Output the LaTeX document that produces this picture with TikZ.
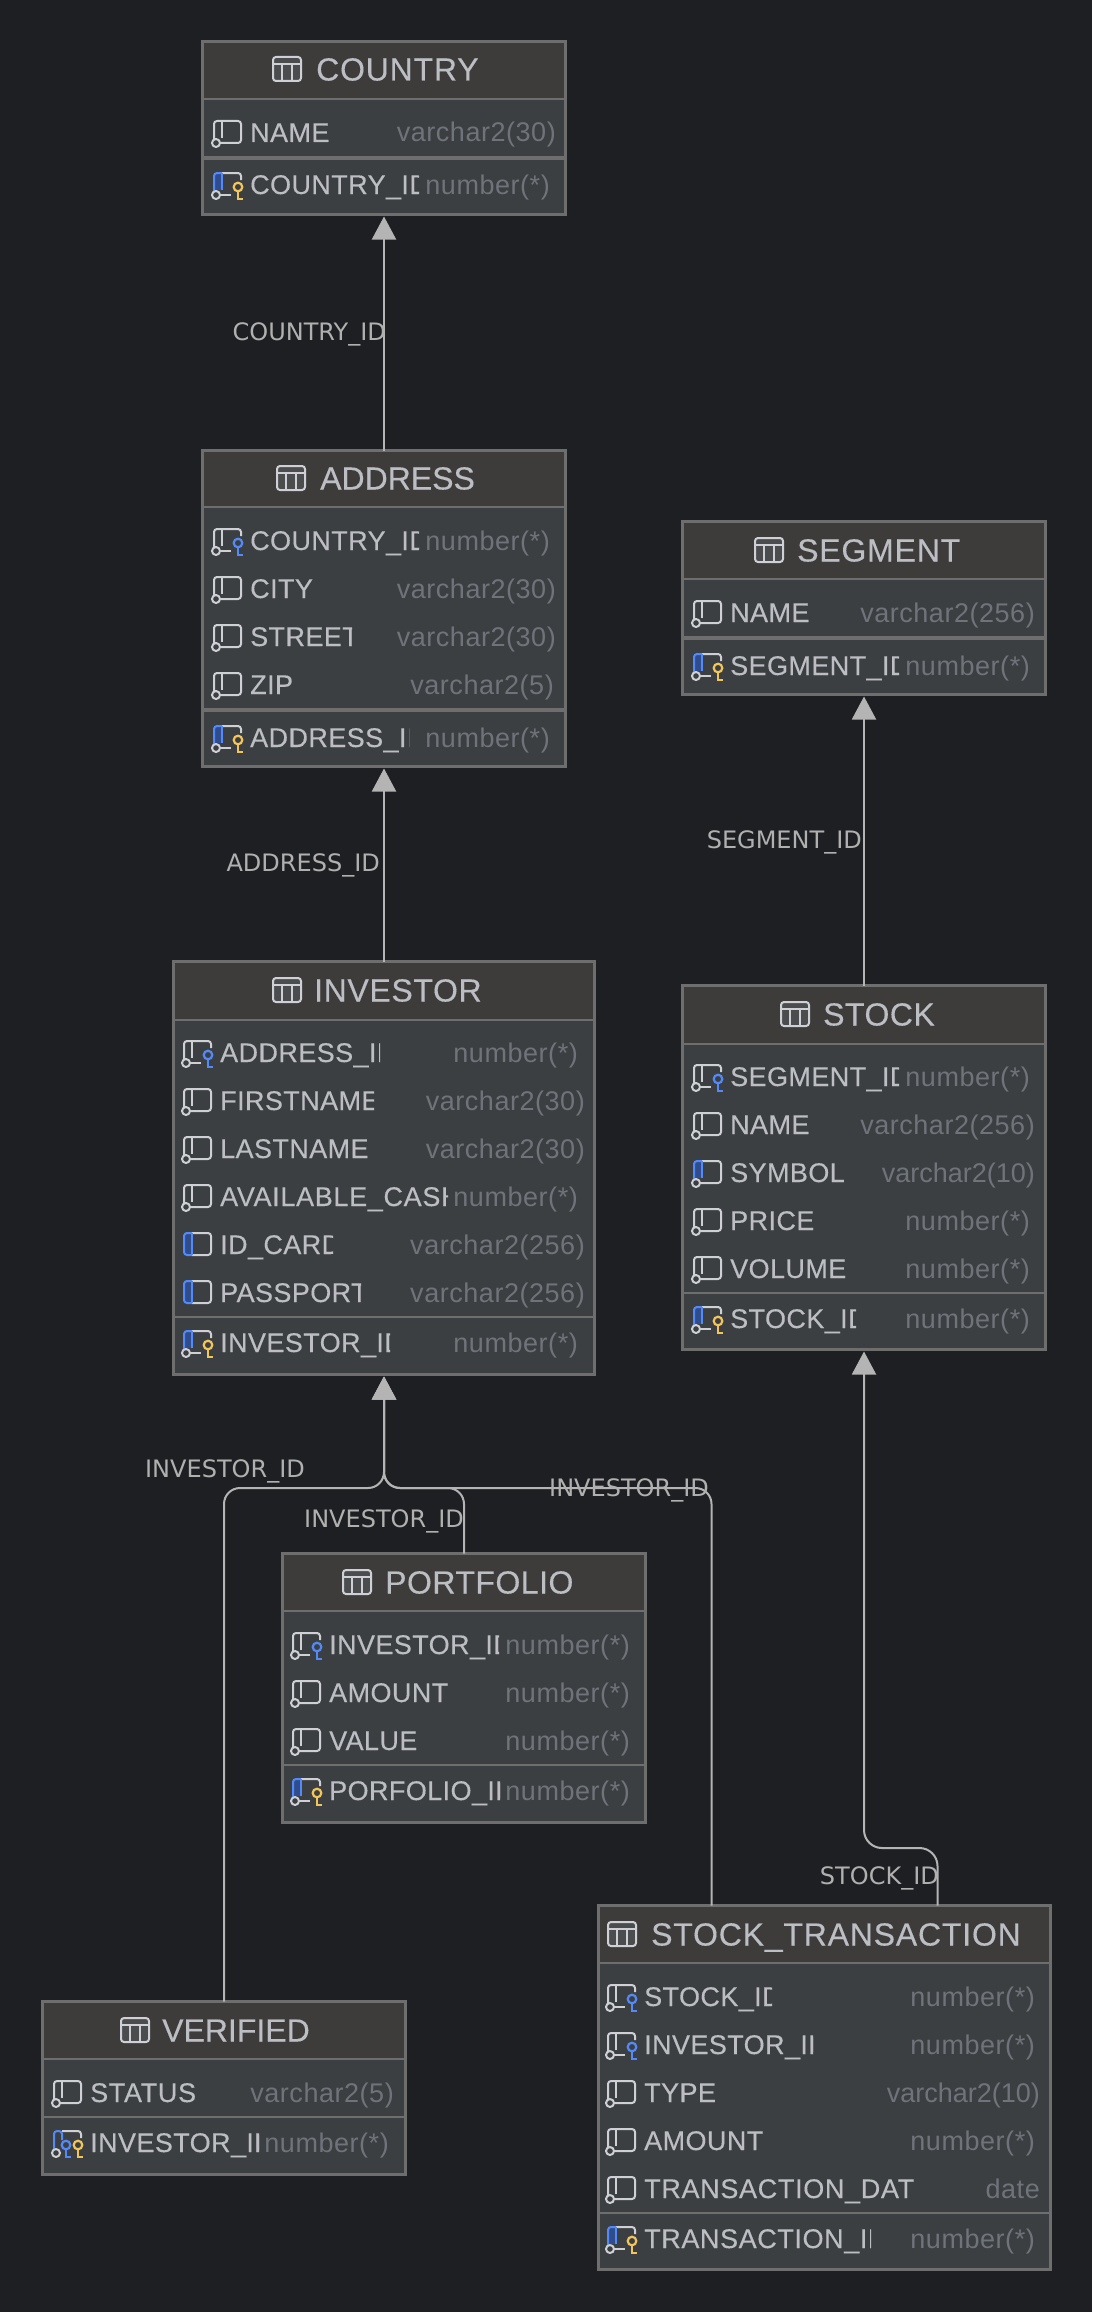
\documentclass[tikz,border=0pt]{standalone}
\usepackage{fontspec}
\setmainfont{Liberation Sans}
\newfontfamily\lblfont{DejaVu Sans}
\newfontfamily\titlefont[LetterSpace=2.5,FakeBold=0.25]{Liberation Sans}
\newfontfamily\namefont[LetterSpace=1.5,FakeBold=0.25]{Liberation Sans}
\newfontfamily\typefont[LetterSpace=2]{Liberation Sans}
\usetikzlibrary{arrows.meta,calc}
\definecolor{bgc}{HTML}{1E1F22}
\definecolor{hdrc}{HTML}{3D3C3B}
\definecolor{bodyc}{HTML}{3C3F41}
\definecolor{bordc}{HTML}{6E6E6E}
\definecolor{namec}{HTML}{BCBEC4}
\definecolor{typec}{HTML}{6F737A}
\definecolor{lblc}{HTML}{B0B0B0}
\definecolor{edgec}{HTML}{B4B4B4}
\definecolor{icoc}{HTML}{CED0D6}
\definecolor{blueic}{HTML}{548AF7}
\definecolor{bandc}{HTML}{2F4D8C}
\definecolor{yelic}{HTML}{F2C55C}
\newcommand\lsp[1]{\addfontfeature{LetterSpace=#1}}
\tikzset{
  tablebox/.style={draw=bordc,fill=bodyc,line width=3pt,inner sep=0pt,outer sep=0pt,anchor=north west},
  titletext/.style={text=namec,inner sep=0pt,anchor=base west,font=\titlefont\fontsize{32}{36}\selectfont},
  nametext/.style={text=namec,inner sep=0pt,anchor=base west,font=\namefont\fontsize{27}{30}\selectfont},
  typetext/.style={text=typec,inner sep=0pt,anchor=base east,font=\typefont\fontsize{27}{30}\selectfont},
  lbltext/.style={text=lblc,inner sep=0pt,anchor=base east,font=\lblfont\fontsize{24}{28}\selectfont},
  fkline/.style={draw=edgec,line width=2pt},
  fkarrow/.style={fkline,shorten >=2pt,-{Triangle[length=23pt,width=24pt,color=edgec]}},
  ico/.style={draw=icoc,line width=2pt,line join=round},
  icoblue/.style={draw=blueic,line width=2pt,line join=round}
}
\newcount\rowno
% icon parts, local origin = left edge of icon at the row centre
\newcommand\icdot{\draw[ico,fill=bodyc] (2,11) circle (4);}
\newcommand\ickey[2][24]{%
  \draw[draw=#2,line width=2.2pt] (#1,3) circle (4.3);
  \draw[draw=#2,line width=2.4pt] (#1,7.5) -- (#1,15) -- ({#1+5},15);}
\newcommand\iccol{%
  \draw[ico,rounded corners=3] (0,7) -- (0,-11) -- (27,-11) -- (27,11) -- (6,11);
  \draw[ico] (8,-11) -- (8,6);\icdot}
\newcommand\icfk{%
  \draw[ico,rounded corners=3] (0,7) -- (0,-11) -- (27,-11) -- (27,-4);
  \draw[ico] (6,11) -- (17,11);
  \draw[ico] (8,-11) -- (8,6);\icdot\ickey{blueic}}
\newcommand\icpk{%
  \fill[bandc] (1,-10) rectangle (8,6);
  \draw[ico,rounded corners=3] (8,-11) -- (27,-11) -- (27,-4);
  \draw[ico] (6,11) -- (17,11);
  \draw[icoblue,rounded corners=3] (0,7) -- (0,-11) -- (8,-11);
  \draw[icoblue] (8,-11) -- (8,6);\icdot\ickey{yelic}}
\newcommand\icpf{%
  \draw[ico,rounded corners=3] (8,-11) -- (27,-11) -- (27,-4);
  \draw[icoblue,rounded corners=3] (0,7) -- (0,-11) -- (8,-11) -- (8,-2);
  \icdot\ickey[12]{blueic}\ickey{yelic}}
\newcommand\icnn{%
  \fill[bandc] (1,-10) rectangle (8,6);
  \draw[ico,rounded corners=3] (8,-11) -- (27,-11) -- (27,11) -- (6,11);
  \draw[icoblue,rounded corners=3] (0,7) -- (0,-11) -- (8,-11);
  \draw[icoblue] (8,-11) -- (8,6);\icdot}
\newcommand\icuq{%
  \fill[bandc] (1,-10) rectangle (8,10);
  \draw[ico,rounded corners=3] (8,-11) -- (27,-11) -- (27,11) -- (8,11);
  \draw[icoblue,rounded corners=3] (8,11) -- (0,11) -- (0,-11) -- (8,-11);
  \draw[icoblue] (8,-11) -- (8,11);}
% \etable{name}{x1}{x2}{ytop}{ybottom}{yhdrsep}{ykeysep}{sepwidth}
\newcommand\etable[8]{%
  \pgfmathsetlengthmacro\tw{#3-#2-3}\pgfmathsetlengthmacro\th{#5-#4-3}%
  \node[tablebox,minimum width=\tw,minimum height=\th] (#1) at ({#2+1.5},{#4+1.5}) {};
  \fill[hdrc] ({#2+3},{#4+3}) rectangle ({#3-3},#6);
  \draw[bordc,line width=2.5pt] ({#2+2},#6) -- ({#3-2},#6);
  \draw[bordc,line width=#8pt] ({#2+2},#7) -- ({#3-2},#7);
}
% \ehead{name}{iconx}{textx}{yc}{title}
\newcommand\ehead[5]{%
  \begin{scope}[shift={(#2,#4)}]
    \draw[ico,fill=bodyc!93!white,rounded corners=3] (0,-12) rectangle (28,12);
    \draw[ico] (0,-5) -- (28,-5) (9.3,-5) -- (9.3,12) (18.7,-5) -- (18.7,12);
  \end{scope}
  \node[titletext] (#1-title) at (#3,{#4+11.5}) {#5};
}
% \erow{iconx}{y}{kind}{name}{clipx}{type}{typeright}
\newcommand\erow[7]{%
  \global\advance\rowno by 1
  \begin{scope}[shift={(#1,#2)}]\csname ic#3\endcsname\end{scope}
  \begin{scope}
    \clip ({#1+30},{#2-20}) rectangle (#5,{#2+22});
    \node[nametext] (n\the\rowno) at ({#1+36},{#2+10}) {#4};
  \end{scope}
  \node[typetext] (t\the\rowno) at (#7,{#2+10}) {#6};
}
\begin{document}
\begin{tikzpicture}[x=1pt,y=-1pt]
\useasboundingbox (0,0) rectangle (1092,2312);
\fill[bgc] (0,0) rectangle (1092,2312);

% COUNTRY
\etable{country}{201}{567}{40}{216}{99}{158}{4}
\ehead{country}{273}{316}{69}{COUNTRY}
\erow{214}{132}{col}{NAME}{2000}{varchar2(30)}{556}
\erow{214}{184}{pk}{COUNTRY\_ID}{419}{number(*)}{550}

% ADDRESS
\etable{address}{201}{567}{449}{768}{507}{710}{4}
\ehead{address}{277}{320}{478}{\lsp{0}ADDRESS}
\erow{214}{540}{fk}{COUNTRY\_ID}{419}{number(*)}{550}
\erow{214}{588}{col}{CITY}{2000}{varchar2(30)}{556}
\erow{214}{636}{col}{STREET}{352}{varchar2(30)}{556}
\erow{214}{684}{col}{ZIP}{2000}{varchar2(5)}{554}
\erow{214}{737}{pk}{ADDRESS\_ID}{409}{number(*)}{550}

% SEGMENT
\etable{segment}{681}{1047}{520}{696}{579}{638}{4}
\ehead{segment}{755}{797}{550}{SEGMENT}
\erow{694}{612}{col}{NAME}{2000}{varchar2(256)}{1035}
\erow{694}{665}{pk}{SEGMENT\_ID}{899}{number(*)}{1030}

% STOCK
\etable{stock}{681}{1047}{984}{1351}{1044}{1293}{2.5}
\ehead{stock}{781}{823}{1014}{\lsp{1.5}STOCK}
\erow{694}{1076}{fk}{SEGMENT\_ID}{899}{number(*)}{1030}
\erow{694}{1124}{col}{NAME}{2000}{varchar2(256)}{1035}
\erow{694}{1172}{nn}{SYMBOL}{2000}{\lsp{0}varchar2(10)}{1035}
\erow{694}{1220}{col}{PRICE}{2000}{number(*)}{1030}
\erow{694}{1268}{col}{VOLUME}{2000}{number(*)}{1030}
\erow{694}{1318}{pk}{STOCK\_ID}{856}{number(*)}{1030}

% INVESTOR
\etable{investor}{172}{596}{960}{1376}{1020}{1317}{2.5}
\ehead{investor}{273}{314}{990}{\lsp{2}INVESTOR}
\erow{184}{1052}{fk}{ADDRESS\_ID}{380}{number(*)}{578}
\erow{184}{1100}{col}{FIRSTNAME}{374}{varchar2(30)}{585}
\erow{184}{1148}{col}{LASTNAME}{369}{varchar2(30)}{585}
\erow{184}{1196}{col}{\lsp{2.5}AVAILABLE\_CASH}{448}{number(*)}{578}
\erow{184}{1244}{uq}{ID\_CARD}{333}{varchar2(256)}{585}
\erow{184}{1292}{uq}{PASSPORT}{361}{varchar2(256)}{585}
\erow{184}{1342}{pk}{INVESTOR\_ID}{390}{number(*)}{578}

% PORTFOLIO
\etable{portfolio}{281}{647}{1552}{1824}{1611}{1765}{2.5}
\ehead{portfolio}{343}{385}{1582}{\lsp{1.5}PORTFOLIO}
\erow{293}{1644}{fk}{INVESTOR\_ID}{499}{number(*)}{630}
\erow{293}{1692}{col}{AMOUNT}{2000}{number(*)}{630}
\erow{293}{1740}{col}{VALUE}{2000}{number(*)}{630}
\erow{293}{1790}{pk}{PORFOLIO\_ID}{500}{number(*)}{630}

% VERIFIED
\etable{verified}{41}{407}{2000}{2176}{2059}{2117}{2.5}
\ehead{verified}{121}{162}{2030}{\lsp{0}VERIFIED}
\erow{54}{2092}{col}{\lsp{2.5}STATUS}{2000}{varchar2(5)}{394}
\erow{54}{2142}{pf}{INVESTOR\_ID}{259}{number(*)}{389}

% STOCK_TRANSACTION
\etable{tx}{597}{1052}{1904}{2271}{1963}{2213}{2.5}
\ehead{tx}{608}{651}{1934}{STOCK\_TRANSACTION}
\erow{608}{1996}{fk}{STOCK\_ID}{772}{number(*)}{1035}
\erow{608}{2044}{fk}{INVESTOR\_ID}{813}{number(*)}{1035}
\erow{608}{2092}{col}{TYPE}{2000}{\lsp{0}varchar2(10)}{1040}
\erow{608}{2140}{col}{AMOUNT}{2000}{number(*)}{1035}
\erow{608}{2188}{col}{\lsp{2.5}TRANSACTION\_DATE}{914}{date}{1040}
\erow{608}{2238}{pk}{\lsp{2.2}TRANSACTION\_ID}{871}{number(*)}{1035}

% connectors
\coordinate (txa) at ($(tx.north west)!.25!(tx.north east)$);
\coordinate (txb) at ($(tx.north west)!.75!(tx.north east)$);
\coordinate (bus) at (0,1488);
\coordinate (busb) at (0,1848);
\draw[fkarrow] (address.north) -- (country.south);
\draw[fkarrow] (investor.north) -- (address.south);
\draw[fkarrow] (stock.north) -- (segment.south);
\draw[fkarrow,rounded corners=16pt] (verified.north) -- (verified.north |- bus) -- (investor.south |- bus) -- (investor.south);
\draw[fkarrow,rounded corners=16pt] (portfolio.north) -- (portfolio.north |- bus) -- (investor.south |- bus) -- (investor.south);
\draw[fkarrow,rounded corners=16pt] (txa) -- (txa |- bus) -- (investor.south |- bus) -- (investor.south);
\draw[fkarrow,rounded corners=18pt] (txb) -- (txb |- busb) -- (stock.south |- busb) -- (stock.south);

% connector labels
\node[lbltext] (l1) at (386,340) {COUNTRY\_ID};
\node[lbltext] (l2) at (380,871) {ADDRESS\_ID};
\node[lbltext] (l3) at (862,848) {SEGMENT\_ID};
\node[lbltext] (l4) at (305,1477) {INVESTOR\_ID};
\node[lbltext] (l5) at (464,1527) {INVESTOR\_ID};
\node[lbltext] (l6) at (709,1496) {INVESTOR\_ID};
\node[lbltext] (l7) at (939,1884) {STOCK\_ID};
\end{tikzpicture}
\end{document}
